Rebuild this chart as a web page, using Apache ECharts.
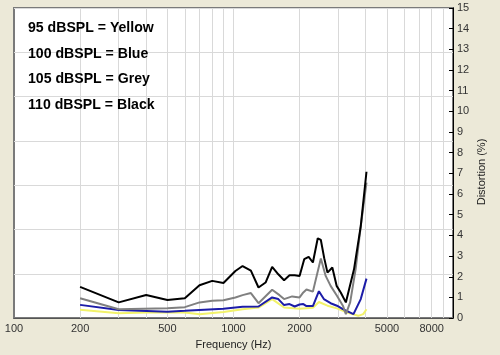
<!DOCTYPE html>
<html><head><meta charset="utf-8">
<script src="https://cdn.jsdelivr.net/npm/echarts@6/dist/echarts.min.js"></script>
<style>html,body{margin:0;padding:0;background:#ECE9D8;}#c{width:500px;height:355px;}</style>
</head><body><div id="c"></div>
<script>
// Tick labels
const xTickLabels = [100, 200, 500, 1000, 2000, 5000, 8000];
const xGridValues = [200,300,400,500,600,700,800,900,1000,2000,3000,4000,5000,6000,7000,8000,9000];
const legendLines = ['95 dBSPL = Yellow', '100 dBSPL = Blue', '105 dBSPL = Grey', '110 dBSPL = Black'];

// 110 dBSPL (black)
const blackFreq = [200,300,400,500,600,700,800,900,1020,1100,1200,1300,1400,1500,1600,1700,1800,1900,2000,2100,2200,2300,2420,2500,2590,2680,2820,2950,3080,3250,3540,3800,4035];
const blackVal  = [1.51,0.76,1.12,0.88,0.96,1.59,1.8,1.7,2.28,2.52,2.3,1.48,1.72,2.48,2.12,1.83,2.07,2.07,2.04,2.85,2.96,2.69,3.86,3.78,2.9,2.2,2.45,1.56,1.24,0.76,2.36,4.45,7.08];
// 105 dBSPL (grey)
const greyFreq = [200,300,500,600,700,800,900,1020,1100,1200,1300,1500,1620,1700,1850,2000,2080,2150,2300,2500,2630,2770,2960,3150,3250,3400,3600,3800,4035];
const greyVal  = [0.96,0.43,0.48,0.53,0.76,0.84,0.86,1.0,1.11,1.21,0.72,1.37,1.11,0.92,1.05,1.0,1.24,1.38,1.28,2.88,2.04,1.56,1.08,0.6,0.19,0.76,2.36,4.45,6.55];
// 100 dBSPL (blue)
const blueFreq = [200,300,500,600,900,1100,1300,1500,1600,1700,1800,1900,2000,2080,2150,2300,2450,2580,2770,2960,3150,3520,3800,4035];
const blueVal  = [0.64,0.39,0.31,0.35,0.45,0.55,0.56,1.0,0.92,0.63,0.68,0.56,0.66,0.68,0.58,0.58,1.3,0.92,0.72,0.6,0.43,0.19,0.92,1.91];
// 95 dBSPL (yellow)
const yellowFreq = [200,300,400,500,600,700,900,1100,1300,1500,1700,2000,2300,2450,2680,2960,3300,3700,3900,4035];
const yellowVal  = [0.40,0.24,0.27,0.27,0.27,0.19,0.30,0.43,0.51,0.92,0.51,0.45,0.50,0.78,0.6,0.47,0.27,0.11,0.19,0.43];

function pairs(f, v) { return f.map((x, i) => [x, v[i]]); }

const chart = echarts.init(document.getElementById('c'));
const font = 'Liberation Sans, Arial, sans-serif';
chart.setOption({
  backgroundColor: '#ECE9D8',
  animation: false,
  grid: { left: 14, top: 8, right: 47, bottom: 36, show: true, backgroundColor: '#ffffff', borderColor: '#7a7a7a', borderWidth: 2 },
  xAxis: {
    type: 'log', logBase: 10, min: 100, max: 10000,
    name: 'Frequency (Hz)', nameLocation: 'middle', nameGap: 20,
    nameTextStyle: { color: '#222', fontSize: 11, fontFamily: font },
    axisLine: { show: true, lineStyle: { color: '#555', width: 1 } },
    axisTick: { show: false, customValues: xGridValues },
    axisLabel: { customValues: xTickLabels, color: '#333', fontSize: 11, fontFamily: font, margin: 5,
      formatter: v => String(Math.round(v)) },
    splitLine: { show: true, lineStyle: { color: '#d9d9d9', width: 1 } },
    minorSplitLine: { show: false }
  },
  yAxis: [{
    type: 'value', position: 'right', min: 0, max: 15, interval: 1,
    axisLine: { show: true, lineStyle: { color: '#000', width: 1 } },
    axisTick: { show: true, inside: true, length: 4, lineStyle: { color: '#000' } },
    axisLabel: { color: '#333', fontSize: 11, fontFamily: font, margin: 4 },
    splitLine: { show: false }
  }, {
    type: 'value', position: 'left', min: 0, max: 7, interval: 1,
    axisLine: { show: false }, axisTick: { show: false }, axisLabel: { show: false },
    splitLine: { show: true, lineStyle: { color: '#d9d9d9', width: 1 } }
  }],
  graphic: [
    ...legendLines.map((t, i) => ({
      type: 'text', x: 28, y: 28 + i * 25.6, scaleX: 0.94, z: 100, zlevel: 0,
      style: { text: t, fill: '#000', font: 'bold 15px ' + font, verticalAlign: 'middle' }
    })),
    { type: 'text', x: 482, y: 172, rotation: Math.PI / 2, z: 100,
      style: { text: 'Distortion (%)', fill: '#222', font: '11px ' + font, align: 'center', verticalAlign: 'middle' } }
  ],
  series: [
    { type: 'line', yAxisIndex: 0, data: pairs(yellowFreq, yellowVal), showSymbol: false, lineStyle: { color: '#f2f26a', width: 2 }, z: 2 },
    { type: 'line', yAxisIndex: 0, data: pairs(blueFreq, blueVal), showSymbol: false, lineStyle: { color: '#1c1ca8', width: 2 }, z: 3 },
    { type: 'line', yAxisIndex: 0, data: pairs(greyFreq, greyVal), showSymbol: false, lineStyle: { color: '#808080', width: 2 }, z: 4 },
    { type: 'line', yAxisIndex: 0, data: pairs(blackFreq, blackVal), showSymbol: false, lineStyle: { color: '#000000', width: 2 }, z: 5 }
  ]
});
</script></body></html>
